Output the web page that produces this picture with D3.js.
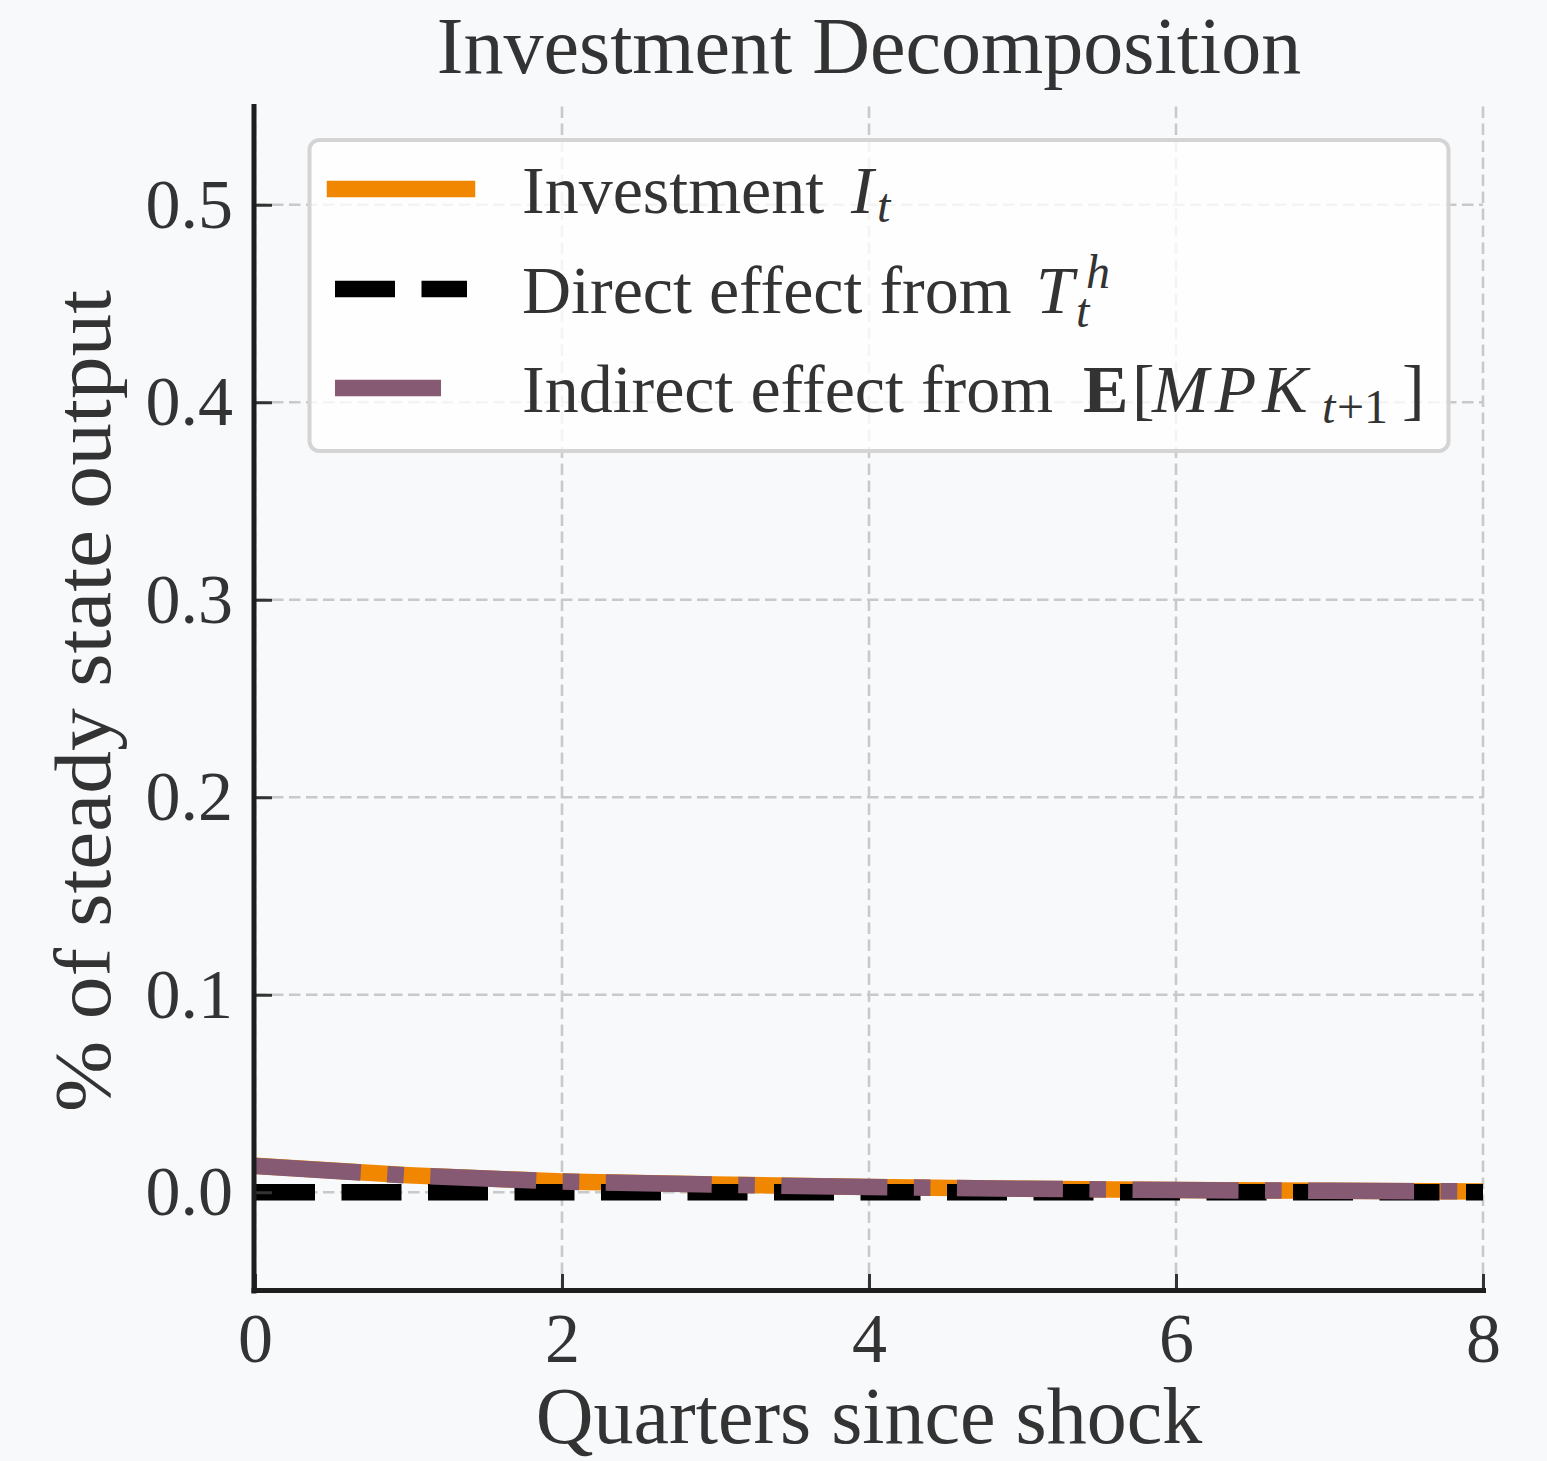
<!DOCTYPE html>
<html>
<head>
<meta charset="utf-8">
<script src="https://d3js.org/d3.v7.min.js"></script>
<style>
  html, body { margin: 0; padding: 0; background: #f8f9fb; }
  svg { display: block; }
  text { font-family: 'Liberation Serif', 'Times New Roman', serif; fill: #333; }
</style>
</head>
<body>
<div id="chart"></div>
<script>
// values (quarters since shock, % of steady state output)
const quarters = [0, 1, 2, 3, 4, 5, 6, 7, 8]
const investment = [0.0134, 0.0086, 0.0054, 0.0039, 0.0026, 0.0018, 0.0011, 0.0007, 0.0004]
const directEffect = [0, 0, 0, 0, 0, 0, 0, 0, 0]
const indirectEffect = [0.0133, 0.0085, 0.0054, 0.0039, 0.0026, 0.0018, 0.0011, 0.0007, 0.0004]
const xTicks = [0, 2, 4, 6, 8]
const yTicks = [0.0, 0.1, 0.2, 0.3, 0.4, 0.5]

const W = 1547, H = 1461
const m = {l: 255, r: 1483, t: 106, b: 1291}

const svg = d3.select('#chart').append('svg')
  .attr('width', W)
  .attr('height', H)

svg.append('rect').attr('width', W).attr('height', H).attr('fill', '#f8f9fb')

const x = d3.scaleLinear().domain([0, 8]).range([m.l, m.r])
const y = d3.scaleLinear().domain([-0.05, 0.55]).range([m.b, m.t])

svg.append('clipPath').attr('id', 'plotClip')
  .append('rect')
  .attr('x', m.l).attr('y', m.t)
  .attr('width', m.r - m.l).attr('height', m.b - m.t)

// grid
const grid = svg.append('g').attr('class', 'grid')
grid.selectAll('line.gx').data(xTicks).enter().append('line')
  .attr('x1', d => x(d)).attr('x2', d => x(d))
  .attr('y1', m.b).attr('y2', m.t)
  .style('stroke', '#c9c9c9').style('stroke-width', 2.6)
  .style('stroke-dasharray', '11.5 5.5')
grid.selectAll('line.gy').data(yTicks).enter().append('line')
  .attr('x1', m.l).attr('x2', m.r)
  .attr('y1', d => y(d)).attr('y2', d => y(d))
  .style('stroke', '#c9c9c9').style('stroke-width', 2.6)
  .style('stroke-dasharray', '11.5 5.5')

// series
const series = [
  {name: 'inv', values: investment, color: '#f18700', dash: null, cap: 'square'},
  {name: 'direct', values: directEffect, color: '#000000', dash: '60 26.5', cap: 'butt'},
  {name: 'indirect', values: indirectEffect, color: '#865a73', dash: '106 26.5 16.6 26.5', cap: 'butt'}
]

const line = d3.line()
  .x((d, i) => x(quarters[i]))
  .y(d => y(d))

const lines = svg.append('g').attr('clip-path', 'url(#plotClip)')
lines.selectAll('path').data(series).enter().append('path')
  .attr('d', d => line(d.values))
  .style('fill', 'none')
  .style('stroke', d => d.color)
  .style('stroke-width', 16.5)
  .style('stroke-linecap', d => d.cap)
  .style('stroke-linejoin', 'round')
  .style('stroke-dasharray', d => d.dash)

// axes with inward ticks
const xAxis = svg.append('g')
  .attr('transform', 'translate(0,' + m.b + ')')
  .call(d3.axisBottom(x).tickValues(xTicks).tickFormat(d3.format('d')).tickSize(-17).tickPadding(21))
const yAxis = svg.append('g')
  .attr('transform', 'translate(' + m.l + ',0)')
  .call(d3.axisLeft(y).tickValues(yTicks).tickFormat(d3.format('.1f')).tickSize(-17).tickPadding(22))

;[xAxis, yAxis].forEach(a => {
  a.select('.domain').remove()
  a.selectAll('.tick line').style('stroke', '#333').style('stroke-width', 3)
  a.selectAll('.tick text')
    .style('font-family', "'Liberation Serif', serif")
    .style('font-size', '70px')
    .style('fill', '#333')
})

// spines
svg.append('line')
  .attr('x1', 254).attr('x2', 254).attr('y1', 104).attr('y2', 1293.5)
  .style('stroke', '#1e1e1e').style('stroke-width', 5)
svg.append('line')
  .attr('x1', 251.5).attr('x2', 1486).attr('y1', 1290.5).attr('y2', 1290.5)
  .style('stroke', '#1e1e1e').style('stroke-width', 5)

// titles
svg.append('text')
  .attr('x', (m.l + m.r) / 2).attr('y', 73)
  .attr('text-anchor', 'middle')
  .style('font-size', '80px')
  .text('Investment Decomposition')

svg.append('text')
  .attr('x', (m.l + m.r) / 2).attr('y', 1443)
  .attr('text-anchor', 'middle')
  .style('font-size', '80px')
  .text('Quarters since shock')

svg.append('text')
  .attr('transform', 'translate(110,701) rotate(-90)')
  .attr('text-anchor', 'middle')
  .attr('textLength', 822)
  .attr('lengthAdjust', 'spacingAndGlyphs')
  .style('font-size', '80px')
  .text('% of steady state output')

// legend
const leg = svg.append('g').attr('class', 'legend')
leg.append('rect')
  .attr('x', 309.5).attr('y', 140)
  .attr('width', 1139).attr('height', 311)
  .attr('rx', 10).attr('ry', 10)
  .style('fill', 'rgba(255,255,255,0.8)')
  .style('stroke', '#d4d4d4').style('stroke-width', 4)

const handleY = [189, 289, 388]
leg.selectAll('line.handle').data(series).enter().append('line')
  .attr('x1', 335).attr('x2', 467)
  .attr('y1', (d, i) => handleY[i]).attr('y2', (d, i) => handleY[i])
  .style('stroke', d => d.color)
  .style('stroke-width', 16.5)
  .style('stroke-linecap', d => d.cap)
  .style('stroke-dasharray', d => d.dash)

const fs = 68
const sub = 48

const t1 = leg.append('text').style('font-size', fs + 'px')
t1.append('tspan').attr('x', 522).attr('y', 213).text('Investment')
t1.append('tspan').attr('x', 851).attr('y', 213).style('font-style', 'italic').text('I')
t1.append('tspan').attr('x', 877).attr('y', 222).style('font-style', 'italic').style('font-size', sub + 'px').text('t')

const t2 = leg.append('text').style('font-size', fs + 'px')
t2.append('tspan').attr('x', 522).attr('y', 313).text('Direct effect from')
t2.append('tspan').attr('x', 1036).attr('y', 313).style('font-style', 'italic').text('T')
t2.append('tspan').attr('x', 1086).attr('y', 288).style('font-style', 'italic').style('font-size', sub + 'px').text('h')
t2.append('tspan').attr('x', 1076).attr('y', 327).style('font-style', 'italic').style('font-size', sub + 'px').text('t')

const t3 = leg.append('text').style('font-size', fs + 'px')
t3.append('tspan').attr('x', 522).attr('y', 412).text('Indirect effect from')
t3.append('tspan').attr('x', 1083).attr('y', 412).style('font-weight', 'bold').text('E')
t3.append('tspan').attr('x', 1132).attr('y', 412).text('[')
t3.append('tspan').attr('x', 1152).attr('y', 412).style('font-style', 'italic')
  .style('letter-spacing', '6px').text('MPK')
t3.append('tspan').attr('x', 1322).attr('y', 423).style('font-style', 'italic').style('font-size', sub + 'px').text('t')
t3.append('tspan').attr('x', 1337).attr('y', 423).style('font-size', sub + 'px').text('+1')
t3.append('tspan').attr('x', 1402).attr('y', 412).text(']')
</script>
</body>
</html>
